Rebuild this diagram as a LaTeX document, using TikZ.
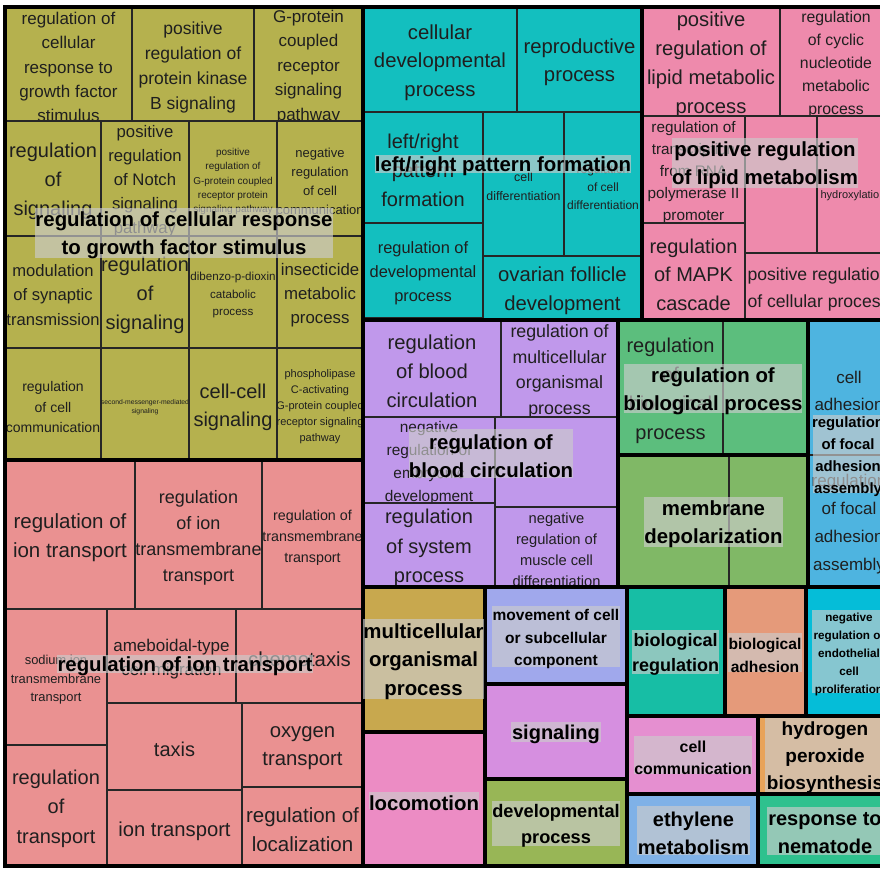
\documentclass[tikz,border=0pt]{standalone}
\usepackage{fontspec}
\setmainfont{Liberation Sans}
\definecolor{olv}{HTML}{B5B14E}
\definecolor{sal}{HTML}{EA9191}
\definecolor{cya}{HTML}{13BFBF}
\definecolor{pnk}{HTML}{EE8AAC}
\definecolor{pur}{HTML}{C098EB}
\definecolor{grn}{HTML}{5CBE7D}
\definecolor{mem}{HTML}{80B866}
\definecolor{blu}{HTML}{4EB4E0}
\definecolor{gld}{HTML}{C8A84E}
\definecolor{loc}{HTML}{EC8CC4}
\definecolor{mov}{HTML}{A0A8EC}
\definecolor{sig}{HTML}{D68FE0}
\definecolor{dev}{HTML}{98B656}
\definecolor{brg}{HTML}{17BEA5}
\definecolor{bad}{HTML}{E59A7A}
\definecolor{end}{HTML}{05BDD8}
\definecolor{ccm}{HTML}{E58FD0}
\definecolor{hyd}{HTML}{E8A35A}
\definecolor{eth}{HTML}{7FB1E7}
\definecolor{nem}{HTML}{2EC18E}
\definecolor{ovgray}{HTML}{CCCCCC}
\newcommand\tc[9]{%
  \filldraw[cellline, fill=#2] (#3,#4) rectangle (#5,#6);
  \node[lbl, font=\fontsize{#7}{#8}\selectfont] (#1) at ({(#3+#5)/2},{(#4+#6)/2}) {#9};}
\newcommand\ov[8]{%
  \fill[ovfill] (#2,#3) rectangle (#4,#5);
  \node[olbl, font=\bfseries\fontsize{#6}{#7}\selectfont] (#1) at ({(#2+#4)/2},{(#3+#5)/2}) {#8};}
\begin{document}
\begin{tikzpicture}[x=1pt,y=-1pt,
  cellline/.style={draw=black!85, line width=1.2pt},
  lbl/.style={align=center, inner sep=0pt, text=black!88, yshift=-3pt},
  ovfill/.style={fill=ovgray, fill opacity=0.65},
  olbl/.style={align=center, inner sep=0pt, text=black, yshift=-2.5pt},
  grp/.style={draw=black, line width=4.5pt}]
\useasboundingbox (0,0) rectangle (880,868);
\fill[white] (0,0) rectangle (880,868);
\clip (0,0) rectangle (880,868);
% ---------- olive group
\tc{c1}{olv}{5}{7}{132}{121}{17}{24.4}{regulation of\\cellular\\response to\\growth factor\\stimulus}
\tc{c2}{olv}{132}{7}{254}{121}{17.5}{25}{positive\\regulation of\\protein kinase\\B signaling}
\tc{c3}{olv}{254}{7}{363}{121}{17}{24.4}{G-protein\\coupled\\receptor\\signaling\\pathway}
\tc{c4}{olv}{5}{121}{101}{236}{20}{29}{regulation\\of\\signaling}
\tc{c5}{olv}{101}{121}{189}{236}{16.7}{24}{positive\\regulation\\of Notch\\signaling\\pathway}
\tc{c6}{olv}{189}{121}{277}{236}{10}{14.2}{positive\\regulation of\\G-protein coupled\\receptor protein\\signaling pathway}
\tc{c7}{olv}{277}{121}{363}{236}{13}{19}{negative\\regulation\\of cell\\communication}
\tc{c8}{olv}{5}{236}{101}{348}{16.6}{24.5}{modulation\\of synaptic\\transmission}
\tc{c9}{olv}{101}{236}{189}{348}{20}{29}{regulation\\of\\signaling}
\tc{c10}{olv}{189}{236}{277}{348}{11.6}{17.5}{dibenzo-p-dioxin\\catabolic\\process}
\tc{c11}{olv}{277}{236}{363}{348}{16.8}{24}{insecticide\\metabolic\\process}
\tc{c12}{olv}{5}{348}{101}{460}{14}{20.5}{regulation\\of cell\\communication}
\tc{c13}{olv}{101}{348}{189}{460}{6.8}{9.5}{second-messenger-mediated\\signaling}
\tc{c14}{olv}{189}{348}{277}{460}{20}{28}{cell-cell\\signaling}
\tc{c15}{olv}{277}{348}{363}{460}{11}{16}{phospholipase\\C-activating\\G-protein coupled\\receptor signaling\\pathway}
% ---------- salmon group
\tc{s1}{sal}{5}{460}{135}{609}{20.5}{29}{regulation of\\ion transport}
\tc{s2}{sal}{135}{460}{262}{609}{18}{26}{regulation\\of ion\\transmembrane\\transport}
\tc{s3}{sal}{262}{460}{363}{609}{14.3}{21}{regulation of\\transmembrane\\transport}
\tc{s4}{sal}{5}{609}{107}{745}{12.9}{18.5}{sodium ion\\transmembrane\\transport}
\tc{s5}{sal}{107}{609}{236}{703}{17}{24}{ameboidal-type\\cell migration}
\tc{s6}{sal}{236}{609}{363}{703}{20.3}{28}{chemotaxis}
\tc{s7}{sal}{107}{703}{242}{790}{20}{28}{taxis}
\tc{s8}{sal}{242}{703}{363}{787}{20.3}{28}{oxygen\\transport}
\tc{s9}{sal}{5}{745}{107}{866}{20}{29.5}{regulation\\of\\transport}
\tc{s10}{sal}{107}{790}{242}{866}{20.2}{28}{ion transport}
\tc{s11}{sal}{242}{787}{363}{866}{20.5}{29}{regulation of\\localization}
% ---------- cyan group
\tc{y1}{cya}{363}{7}{517}{112}{20.3}{28.5}{cellular\\developmental\\process}
\tc{y2}{cya}{517}{7}{642}{112}{20.3}{28}{reproductive\\process}
\tc{y3}{cya}{363}{112}{483}{223}{20}{29}{left/right\\pattern\\formation}
\tc{y4}{cya}{363}{223}{483}{318}{16.4}{24}{regulation of\\developmental\\process}
\tc{y5}{cya}{483}{112}{564}{256}{12.4}{19}{cell\\differentiation}
\tc{y6}{cya}{564}{112}{642}{256}{12}{18}{regulation\\of cell\\differentiation}
\tc{y7}{cya}{483}{256}{642}{320}{20.3}{29}{ovarian follicle\\development}
% ---------- pink group
\tc{p1}{pnk}{642}{7}{780}{116}{20.2}{29}{positive\\regulation of\\lipid metabolic\\process}
\tc{p2}{pnk}{780}{7}{892}{116}{15.8}{23}{regulation\\of cyclic\\nucleotide\\metabolic\\process}
\tc{p3}{pnk}{642}{116}{745}{223}{15.3}{22}{regulation of\\transcription\\from RNA\\polymerase II\\promoter}
\tc{p4}{pnk}{642}{223}{745}{320}{20}{28.5}{regulation\\of MAPK\\cascade}
\tc{p5}{pnk}{745}{116}{817}{253}{12}{16}{}
\tc{p6}{pnk}{817}{116}{892}{253}{11}{16}{}
\node[lbl, font=\fontsize{11}{16}\selectfont] (p6t) at (853,193) {hydroxylation};
\tc{p7}{pnk}{745}{253}{892}{320}{17.6}{27}{positive regulation\\of cellular process}
% ---------- purple group
\tc{u1}{pur}{363}{320}{501}{417}{20.2}{29}{regulation\\of blood\\circulation}
\tc{u2}{pur}{501}{320}{618}{417}{17.8}{25.7}{regulation of\\multicellular\\organismal\\process}
\tc{u3}{pur}{363}{417}{495}{503}{15.4}{22.7}{negative\\regulation of\\embryonic\\development}
\tc{u4}{pur}{495}{417}{618}{507}{12}{16}{}
\tc{u5}{pur}{363}{503}{495}{587}{20}{29.5}{regulation\\of system\\process}
\tc{u6}{pur}{495}{507}{618}{587}{14.7}{21}{negative\\regulation of\\muscle cell\\differentiation}
% ---------- green / membrane / blue
\tc{g1}{grn}{618}{320}{723}{455}{20}{29}{regulation\\of\\biological\\process}
\tc{g2}{grn}{723}{320}{808}{455}{12}{16}{}
\tc{m1}{mem}{618}{455}{729}{587}{12}{16}{}
\tc{m2}{mem}{729}{455}{808}{587}{12}{16}{}
\tc{b1}{blu}{808}{320}{890}{455}{17}{27}{cell\\adhesion}
\tc{b2}{blu}{808}{455}{890}{587}{17}{28}{regulation\\of focal\\adhesion\\assembly}
% ---------- singletons
\tc{n1}{gld}{363}{587}{485}{732}{12}{16}{}
\tc{n2}{loc}{363}{732}{485}{866}{12}{16}{}
\tc{n3}{mov}{485}{587}{627}{684}{12}{16}{}
\tc{n4}{sig}{485}{684}{627}{779}{12}{16}{}
\tc{n5}{dev}{485}{779}{627}{866}{12}{16}{}
\tc{n6}{brg}{627}{587}{725}{716}{12}{16}{}
\tc{n7}{bad}{725}{587}{806}{716}{12}{16}{}
\tc{n8}{end}{806}{587}{892}{716}{12}{16}{}
\tc{n9}{ccm}{627}{716}{758}{794}{12}{16}{}
\tc{n10}{hyd}{758}{716}{892}{794}{12}{16}{}
\tc{n11}{eth}{627}{794}{758}{866}{12}{16}{}
\tc{n12}{nem}{758}{794}{892}{866}{12}{16}{}
% ---------- group borders
\draw[grp] (5,7) rectangle (363,460);
\draw[grp] (5,460) rectangle (363,866);
\draw[grp] (363,7) rectangle (642,320);
\draw[grp] (642,7) rectangle (892,320);
\draw[grp] (363,320) rectangle (618,587);
\draw[grp] (618,320) rectangle (808,455);
\draw[grp] (618,455) rectangle (808,587);
\draw[grp] (808,320) rectangle (892,587);
\draw[grp] (363,587) rectangle (485,732);
\draw[grp] (363,732) rectangle (485,866);
\draw[grp] (485,587) rectangle (627,684);
\draw[grp] (485,684) rectangle (627,779);
\draw[grp] (485,779) rectangle (627,866);
\draw[grp] (627,587) rectangle (725,716);
\draw[grp] (725,587) rectangle (806,716);
\draw[grp] (806,587) rectangle (892,716);
\draw[grp] (627,716) rectangle (758,794);
\draw[grp] (758,716) rectangle (892,794);
\draw[grp] (627,794) rectangle (758,866);
\draw[grp] (758,794) rectangle (892,866);
% ---------- group labels
\ov{L1}{35}{208}{333}{258}{20.4}{28}{regulation of cellular response\\to growth factor stimulus}
\ov{L2}{57}{655}{313}{673}{20.4}{28}{regulation of ion transport}
\ov{L3}{375}{155}{631}{173}{20.4}{28}{left/right pattern formation}
\ov{L4}{672}{138}{858}{188}{20.4}{28}{positive regulation\\of lipid metabolism}
\ov{L5}{409}{429}{573}{478}{20.4}{28}{regulation of\\blood circulation}
\ov{L6}{624}{364}{802}{413}{20.4}{28}{regulation of\\biological process}
\ov{L7}{644}{497}{783}{547}{20.4}{28}{membrane\\depolarization}
\ov{L8}{813}{415}{883}{493}{14.9}{22}{regulation\\of focal\\adhesion\\assembly}
\ov{L9}{363}{619}{484}{699}{20.4}{28.5}{multicellular\\organismal\\process}
\ov{L10}{369}{792}{479}{809}{20.4}{28}{locomotion}
\ov{L11}{492}{606}{620}{667}{15.5}{22.5}{movement of cell\\or subcellular\\component}
\ov{L12}{511}{722}{601}{742}{20}{28}{signaling}
\ov{L13}{492}{801}{620}{846}{18.2}{26}{developmental\\process}
\ov{L14}{632}{630}{719}{674}{18}{25}{biological\\regulation}
\ov{L15}{728}{633}{802}{672}{15.6}{23}{biological\\adhesion}
\ov{L16}{812}{610}{886}{693}{11.7}{18}{negative\\regulation of\\endothelial\\cell\\proliferation}
\ov{L17}{634}{736}{752}{774}{15.9}{22}{cell\\communication}
\ov{L18}{765}{718}{885}{792}{19}{27}{hydrogen\\peroxide\\biosynthesis}
\ov{L19}{637}{806}{750}{855}{20}{28}{ethylene\\metabolism}
\ov{L20}{767}{807}{883}{855}{20}{28}{response to\\nematode}
\end{tikzpicture}
\end{document}
